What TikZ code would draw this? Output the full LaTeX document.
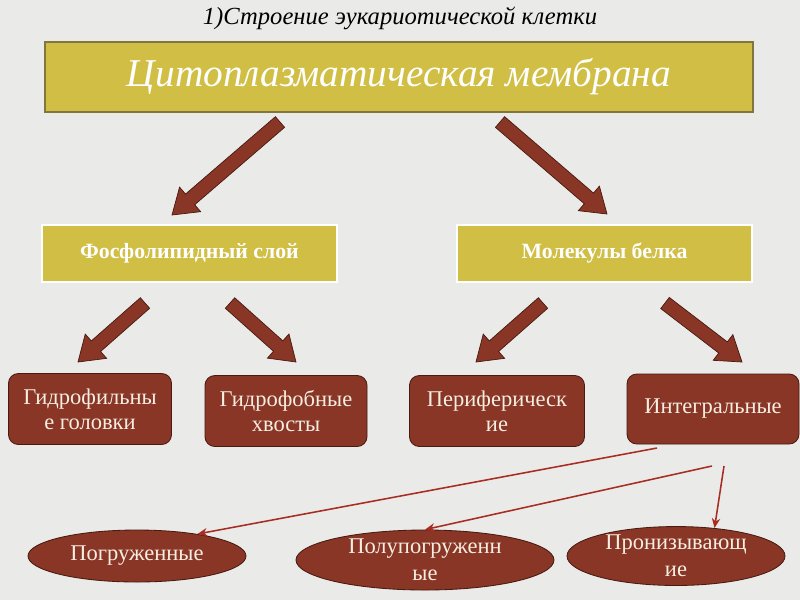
\documentclass[tikz,border=0pt]{standalone}
\usepackage{fontspec}
\setmainfont{Liberation Serif}
\usetikzlibrary{calc}
\usetikzlibrary{arrows.meta}
\usetikzlibrary{shapes.geometric}

\definecolor{bg}{RGB}{234,234,232}
\definecolor{gold}{RGB}{208,190,69}
\definecolor{olive}{RGB}{128,118,62}
\definecolor{brick}{RGB}{137,54,38}
\definecolor{darkbrick}{RGB}{72,26,16}
\definecolor{cream}{RGB}{246,238,226}
\definecolor{thinred}{RGB}{168,44,34}

% thick block arrow between two named points
\newcommand{\blockarrow}[2]{%
 \coordinate (hb) at ($(#2)!17pt!(#1)$);
 \draw [fill=brick, draw=darkbrick, line width=0.5pt]
  ($(#1)!5pt!90:(#2)$) -- ($(hb)!5pt!90:(#2)$) -- ($(hb)!11.5pt!90:(#2)$)
  -- (#2) -- ($(hb)!11.5pt!-90:(#2)$) -- ($(hb)!5pt!-90:(#2)$)
  -- ($(#1)!5pt!-90:(#2)$) -- cycle;
}

\tikzset{
 goldbox/.style={rectangle, fill=gold, draw=white, line width=1.5pt,
  minimum width=295*0.025cm, minimum height=57*0.025cm,
  text=white, font=\fontsize{15.5}{18}\selectfont\bfseries},
 brickbox/.style={rectangle, rounded corners=7pt, fill=brick, draw=darkbrick,
  line width=0.6pt, minimum height=71*0.025cm, align=center, text=cream,
  inner sep=2pt, font=\fontsize{16}{18}\selectfont},
 brickoval/.style={ellipse, fill=brick, draw=darkbrick, line width=0.6pt,
  align=center, text=cream, inner sep=0pt, font=\fontsize{16}{19}\selectfont},
 thinarrow/.style={-{Stealth[length=7pt, width=6pt]}, draw=thinred, line width=1.1pt}
}

\begin{document}
\begin{tikzpicture}[x=0.025cm, y=-0.025cm]
 \fill [bg] (0,0) rectangle (800,600);
 \useasboundingbox (0,0) rectangle (800,600);

 \node (title) at (400,18) {\fontsize{17.5}{20}\selectfont\itshape 1)Строение эукариотической клетки};
 \node [rectangle, fill=gold, draw=olive, line width=1pt,
   minimum width=708*0.025cm, minimum height=70*0.025cm,
   text=white, font=\fontsize{28}{32}\selectfont\itshape] (mem) at (399,77) {Цитоплазматическая мембрана};

 \node [goldbox] (lip) at (189.5,253.5) {Фосфолипидный слой};
 \node [goldbox] (prot) at (604.5,253.5) {Молекулы белка};

 \node [brickbox, minimum width=163*0.025cm] (hphil) at (90,409) {Гидрофильны\\е головки};
 \node [brickbox, minimum width=162*0.025cm] (hphob) at (286,411) {Гидрофобные\\хвосты};
 \node [brickbox, minimum width=175*0.025cm] (peri) at (497,411) {Периферическ\\ие};
 \node [brickbox, minimum width=172*0.025cm, minimum height=70*0.025cm] (integ) at (713,409) {Интегральные};

 \node [brickoval, minimum width=218*0.025cm, minimum height=52*0.025cm] (pogr) at (137,556) {Погруженные};
 \node [brickoval, minimum width=258*0.025cm, minimum height=60*0.025cm] (polu) at (425,560) {Полупогруженн\\ые};
 \node [brickoval, minimum width=218*0.025cm, minimum height=58*0.025cm] (proni) at (676,556) {Пронизывающ\\ие};

 % block arrows
 \coordinate (a1) at (280,122); \coordinate (t1) at (172,215);
 \coordinate (a2) at (500,122); \coordinate (t2) at (607,214);
 \coordinate (a3) at (145,303); \coordinate (t3) at (78,362);
 \coordinate (a4) at (230,303); \coordinate (t4) at (296,362);
 \coordinate (a5) at (543,303); \coordinate (t5) at (476,362);
 \coordinate (a6) at (665,303); \coordinate (t6) at (742,362);
 \blockarrow{a1}{t1}
 \blockarrow{a2}{t2}
 \blockarrow{a3}{t3}
 \blockarrow{a4}{t4}
 \blockarrow{a5}{t5}
 \blockarrow{a6}{t6}

 % thin arrows
 \coordinate (s1) at (657,448);
 \coordinate (s2) at (712,466);
 \coordinate (s3) at (724,466);
 \draw [thinarrow] (s1) -- (pogr.20);
 \draw [thinarrow] (s2) -- (polu.north);
 \draw [thinarrow] (s3) -- (proni.36);
\end{tikzpicture}
\end{document}
